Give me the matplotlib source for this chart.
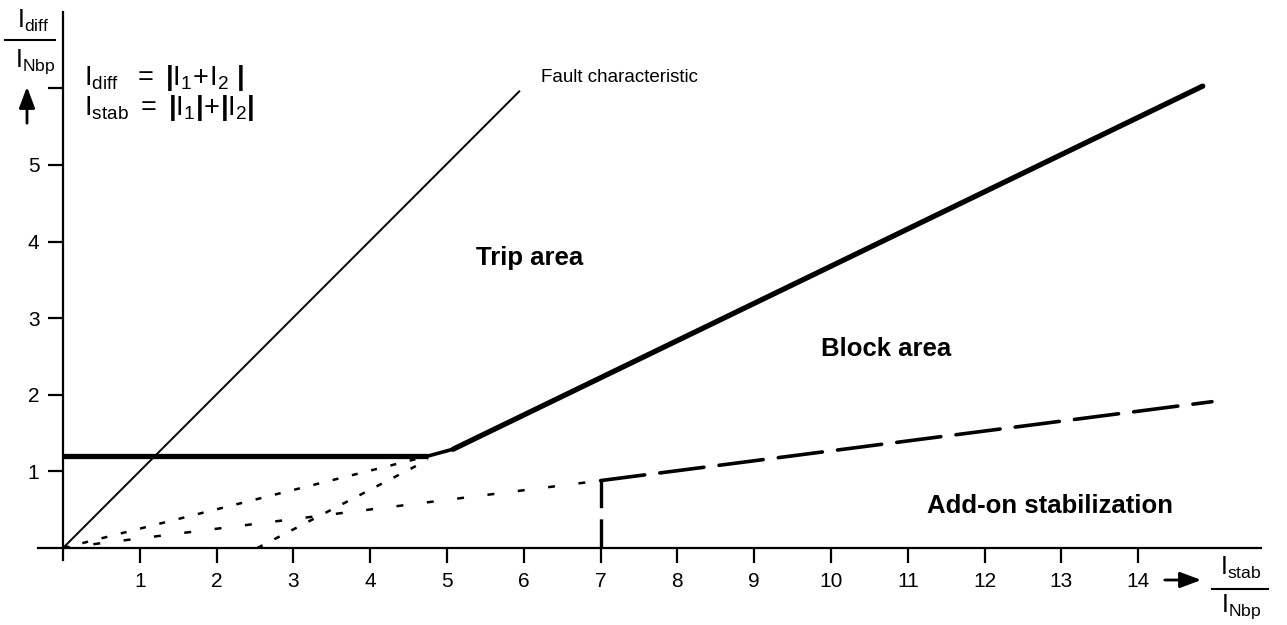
import matplotlib
matplotlib.use("Agg")
import matplotlib.pyplot as plt

plt.rcParams['font.family'] = ['Liberation Sans', 'DejaVu Sans']
plt.rcParams['mathtext.fontset'] = 'custom'
plt.rcParams['mathtext.rm'] = 'Liberation Sans'
plt.rcParams['mathtext.it'] = 'Liberation Sans:italic'
plt.rcParams['mathtext.bf'] = 'Liberation Sans:bold'
plt.rcParams['lines.scale_dashes'] = False

# ---- data ----
x_ticks = [1, 2, 3, 4, 5, 6, 7, 8, 9, 10, 11, 12, 13, 14]
x_tick_labels = ['1', '2', '3', '4', '5', '6', '7', '8', '9', '10', '11', '12', '13', '14']
y_ticks = [1, 2, 3, 4, 5, 6]
y_tick_labels = ['1', '2', '3', '4', '5', '']

fault_x = [0, 5.95]
fault_y = [0, 5.97]

flat_x = [0, 4.75]
flat_y = [1.2, 1.2]
knee_x = [4.75, 5.08]
knee_y = [1.2, 1.29]
slope_x = [5.08, 14.84]
slope_y = [1.29, 6.03]

addon_vert_x = [7, 7]
addon_vert_y = [0, 0.88]
addon_x = [7, 14.96]
addon_y = [0.88, 1.91]

aux1_x = [0, 4.75]
aux1_y = [0, 1.2]
aux2_x = [0, 7]
aux2_y = [0, 0.88]
aux3_x = [2.53, 4.75]
aux3_y = [0, 1.15]

W, H = 1287, 625
fig = plt.figure(figsize=(W / 100, H / 100), dpi=100)
ppu_x = 76.8
ppu_y = 76.6
x0_px, y0_px = 63, 548
xlo, xhi = -0.33, 15.6
ylo, yhi = -0.16, 7.0
left = (x0_px + xlo * ppu_x) / W
width = (xhi - xlo) * ppu_x / W
bottom = 1 - (y0_px - ylo * ppu_y) / H
height = (yhi - ylo) * ppu_y / H
ax = fig.add_axes([left, bottom, width, height])
ax.set_xlim(xlo, xhi)
ax.set_ylim(ylo, yhi)

for s in ['top', 'right']:
    ax.spines[s].set_visible(False)
ax.spines['left'].set_position(('data', 0))
ax.spines['bottom'].set_position(('data', 0))
ax.spines['left'].set_linewidth(1.6)
ax.spines['bottom'].set_linewidth(1.6)

ax.set_xticks(x_ticks)
ax.set_xticklabels(x_tick_labels)
ax.set_yticks(y_ticks)
ax.set_yticklabels(y_tick_labels)
ax.tick_params(axis='both', direction='out', length=11, width=1.6, labelsize=15, pad=6)

# lines
ax.plot(fault_x, fault_y, color='black', lw=1.4, solid_capstyle='butt')
ax.plot(flat_x, flat_y, color='black', lw=3.8, solid_capstyle='butt')
ax.plot(knee_x, knee_y, color='black', lw=2.6, solid_capstyle='butt')
ax.plot(slope_x, slope_y, color='black', lw=3.8, solid_capstyle='round')

ax.plot(addon_vert_x, addon_vert_y, color='black', lw=2.4, dashes=(21, 8), dash_capstyle='butt')
ax.plot(addon_x, addon_y, color='black', lw=2.6, dashes=(32, 11), dash_capstyle='round')

ax.plot(aux1_x, aux1_y, color='black', lw=1.8, dashes=(4.3, 10), dash_capstyle='butt')
ax.plot(aux2_x, aux2_y, color='black', lw=1.8, dashes=(5, 17), dash_capstyle='butt')
ax.plot(aux3_x, aux3_y, color='black', lw=1.8, dashes=(4.3, 9.5), dash_capstyle='butt')

# area labels
ax.text(6.08, 3.78, 'Trip area', fontsize=18.5, fontweight='bold', ha='center', va='center')
ax.text(10.72, 2.6, 'Block area', fontsize=18.5, fontweight='bold', ha='center', va='center')
ax.text(12.85, 0.55, 'Add-on stabilization', fontsize=18.5, fontweight='bold', ha='center', va='center')
ax.text(6.23, 6.14, 'Fault characteristic', fontsize=13.5, ha='left', va='center')


def fx(px):
    return px / W


def fy(py):
    return 1 - py / H


# formulas
fig.text(fx(84), fy(78), r'$\mathrm{I_{diff}\ \ =\ \mathbf{|}I_1\!+\!I_2\ \mathbf{|}}$',
         fontsize=19.5, ha='left', va='center')
fig.text(fx(84), fy(108), r'$\mathrm{I_{stab}\ =\ \mathbf{|}I_1\mathbf{|}\!+\!\mathbf{|}I_2\mathbf{|}}$',
         fontsize=19.5, ha='left', va='center')

# y-axis label fraction
fig.text(fx(33), fy(21), r'$\mathrm{I_{diff}}$', fontsize=18, ha='center', va='center')
fig.add_artist(plt.Line2D([fx(5), fx(55)], [fy(40), fy(40)], color='black', lw=1.5))
fig.text(fx(35), fy(62), r'$\mathrm{I_{Nbp}}$', fontsize=18, ha='center', va='center')
fig.add_artist(matplotlib.patches.FancyArrowPatch((fx(27), fy(126)), (fx(27), fy(84)),
               transform=fig.transFigure, arrowstyle='-|>,head_length=8,head_width=3',
               color='black', lw=2.0, mutation_scale=1.6))

# x-axis label fraction
fig.add_artist(matplotlib.patches.FancyArrowPatch((fx(1162), fy(580)), (fx(1204), fy(580)),
               transform=fig.transFigure, arrowstyle='-|>,head_length=8,head_width=3',
               color='black', lw=2.0, mutation_scale=1.6))
fig.text(fx(1241), fy(568), r'$\mathrm{I_{stab}}$', fontsize=18, ha='center', va='center')
fig.add_artist(plt.Line2D([fx(1212), fx(1268)], [fy(589), fy(589)], color='black', lw=1.5))
fig.text(fx(1241), fy(607), r'$\mathrm{I_{Nbp}}$', fontsize=18, ha='center', va='center')

fig.savefig('out.png', dpi=100)
